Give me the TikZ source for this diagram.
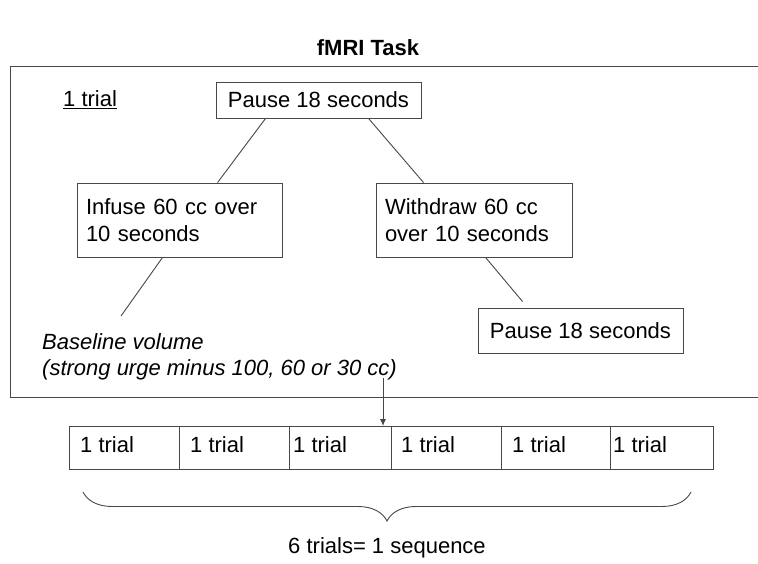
\documentclass[tikz,border=0pt]{standalone}
\usepackage{fontspec}
\setmainfont{Liberation Sans}
\usetikzlibrary{calc,arrows.meta,decorations.pathreplacing}
\begin{document}
\begin{tikzpicture}[x=1pt,y=-1pt,
  lc/.style={draw=black!72,line width=0.9pt},
  txt/.style={font=\fontsize{22}{26.5}\selectfont,text=black},
  box/.style={lc,txt,rectangle,inner sep=0pt,align=left},
  cell/.style={lc,txt,rectangle,inner sep=0pt,minimum height=43,anchor=north west}]
\useasboundingbox (0,0) rectangle (758,564);
% title
\node[txt,font=\fontsize{22}{26}\selectfont\bfseries] (title) at (368,48) {fMRI Task};
% outer frame (open on the right)
\draw[lc] (758,66) -- (10,66) -- (10,397) -- (758,397);
\node[txt,anchor=west,inner sep=0pt] (onetrial) at (63,100) {\underline{1 trial}};
% boxes
\node[box,minimum width=205,minimum height=36,align=center] (pause) at (318.5,100) {Pause 18 seconds};
\node[box,minimum width=205,minimum height=74,text width=187] (infuse) at (179.5,220) {Infuse 60 cc over\\10 seconds};
\node[box,minimum width=196,minimum height=74,text width=178] (withdraw) at (474,220) {Withdraw 60 cc\\over 10 seconds};
\node[box,minimum width=205,minimum height=45,align=center] (pause2) at (580.5,330.5) {Pause 18 seconds};
\node[txt,anchor=west,inner sep=0pt,align=left,font=\fontsize{22}{26}\selectfont\itshape] (base) at (42,357) {Baseline volume\\(strong urge minus 100, 60 or 30 cc)};
% connectors
\coordinate (baseend) at (121,316);
\draw[lc] ($(pause.south west)+(50,0)$) -- ($(infuse.north west)+(141,0)$);
\draw[lc] ($(pause.south west)+(153,0)$) -- ($(withdraw.north west)+(48,0)$);
\draw[lc] ($(infuse.south west)+(86,0)$) -- (baseend);
\draw[lc] ($(withdraw.south west)+(110,0)$) -- ($(pause2.north west)+(45,-6)$);
% trial row
\node[cell,minimum width=110] (c1) at (69,426) {};
\node[cell,minimum width=110] (c2) at (179,426) {};
\node[cell,minimum width=102] (c3) at (289,426) {};
\node[cell,minimum width=110] (c4) at (391,426) {};
\node[cell,minimum width=109] (c5) at (501,426) {};
\node[cell,minimum width=103] (c6) at (610,426) {};
\node[txt,anchor=west,inner sep=0pt] (t1) at ($(c1.west)+(11,-3)$) {1 trial};
\node[txt,anchor=west,inner sep=0pt] (t2) at ($(c2.west)+(11,-3)$) {1 trial};
\node[txt,anchor=west,inner sep=0pt] (t3) at ($(c3.west)+(4,-3)$) {1 trial};
\node[txt,anchor=west,inner sep=0pt] (t4) at ($(c4.west)+(10,-3)$) {1 trial};
\node[txt,anchor=west,inner sep=0pt] (t5) at ($(c5.west)+(11,-3)$) {1 trial};
\node[txt,anchor=west,inner sep=0pt] (t6) at ($(c6.west)+(3,-3)$) {1 trial};
% arrow
\coordinate (arrstart) at (383,378);
\draw[lc,-{Latex[length=7pt,width=6pt]}] (arrstart) -- (arrstart |- c3.north);
% brace
\coordinate (bl) at (83,492);
\coordinate (br) at (691,492);
\draw[lc,decorate,decoration={brace,mirror,amplitude=29pt,aspect=0.5}] (bl) -- (br);
\node[txt] (seq) at (387,548) {6 trials= 1 sequence};
\end{tikzpicture}
\end{document}
